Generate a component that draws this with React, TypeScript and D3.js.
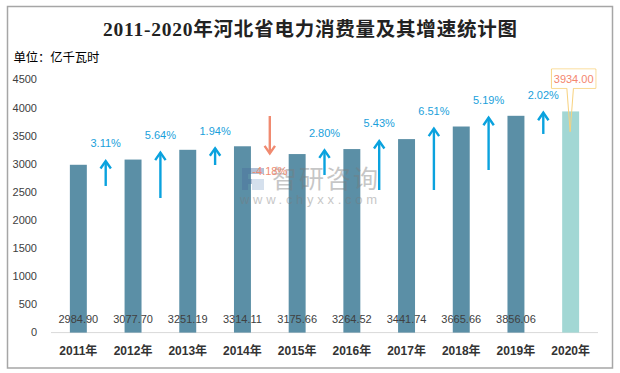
import React from 'react';
import * as d3 from 'd3';

const years = ['2011年', '2012年', '2013年', '2014年', '2015年', '2016年', '2017年', '2018年', '2019年', '2020年'];
const consumption = [2984.9, 3077.7, 3251.19, 3314.11, 3175.66, 3264.52, 3441.74, 3665.66, 3856.06, 3934.0];
const growth = [3.11, 5.64, 1.94, -4.18, 2.8, 5.43, 6.51, 5.19, 2.02];
const arrowTail = [2608, 2394, 2981, 3853, 2803, 2536, 2536, 2892, 3533];
const arrowTip = [3070, 3218, 3296, 3171, 3260, 3426, 3645, 3840, 3929];
const calloutTipValue = 3573;
const yTicks = [0, 500, 1000, 1500, 2000, 2500, 3000, 3500, 4000, 4500];

const W = 620;
const H = 373;
const SANS = '"Liberation Sans", "Noto Sans CJK SC", sans-serif';
const CJK = '"Noto Sans CJK SC", "Liberation Sans", sans-serif';

export default function App() {
  const x = d3
    .scaleBand<string>()
    .domain(years)
    .range([51, 598])
    .paddingInner(0.69)
    .paddingOuter(0.345);
  const y = d3.scaleLinear().domain([0, 4500]).range([332.6, 79.6]);
  const cx = (i: number) => (x(years[i]) as number) + x.bandwidth() / 2;

  const blue = '#0AA2DE';
  const red = '#F08A70';

  const last = years.length - 1;
  const bx = cx(last);
  const boxL = bx - 19.2;
  const boxR = bx + 25.2;
  const boxT = 69;
  const boxB = 88.3;
  const tipY = y(calloutTipValue);
  const calloutPath = `M${boxL},${boxT}H${boxR}V${boxB}H${bx + 2.8}L${bx - 0.5},${tipY}L${bx - 3.8},${boxB}H${boxL}Z`;

  return (
    <div style={{ position: 'absolute', left: 0, top: 0, width: W, height: H, background: '#fff' }}>
      <svg width={W} height={H} viewBox={`0 0 ${W} ${H}`} style={{ display: 'block' }}>
        <rect x={0} y={0} width={W} height={H} fill="#fff" />
        <rect x={7.5} y={6.5} width={605} height={361.5} fill="none" stroke="#A6A6A6" strokeWidth={1.5} />

        <text
          x={310}
          y={36}
          textAnchor="middle"
          fontFamily={'"Liberation Serif", "Noto Sans CJK SC", serif'}
          fontWeight="bold"
          fontSize={19.5}
          fill="#222"
          textLength={414}
          lengthAdjust="spacing"
        >
          2011-2020年河北省电力消费量及其增速统计图
        </text>
        <text x={13.5} y={62} fontFamily={CJK} fontSize={12.4} fill="#000" textLength={86} lengthAdjust="spacing">
          单位：亿千瓦时
        </text>

        {yTicks.map((t) => (
          <text key={t} x={37} y={y(t)} dy="0.35em" textAnchor="end" fontFamily={SANS} fontSize={11} fill="#404040">
            {t}
          </text>
        ))}

        <line x1={51} x2={598} y1={y(0)} y2={y(0)} stroke="#D9D9D9" strokeWidth={1} />

        {consumption.map((v, i) => (
          <rect
            key={years[i]}
            x={x(years[i])}
            y={y(v)}
            width={x.bandwidth()}
            height={y(0) - y(v)}
            fill={i === last ? '#A2D7D4' : '#5B8FA6'}
          />
        ))}

        {/* watermark */}
        <g opacity={0.42}>
          <path d="M242,168h22v6h-16v5h12v5h-12v6h-6z" fill="#4B6E9E" />
          <path d="M252,179h12v11h-12z" fill="#9DB6D6" />
          <text x={272} y={188} fontFamily={CJK} fontSize={25} fill="#7a7a7a" textLength={106} lengthAdjust="spacing">
            智研咨询
          </text>
          <text x={240} y={204} fontFamily={SANS} fontSize={13} fill="#7a7a7a" textLength={137} lengthAdjust="spacing">
            www.chyxx.com
          </text>
        </g>

        {consumption.slice(0, last).map((v, i) => (
          <text key={'v' + i} x={cx(i)} y={319.3} dy="0.35em" textAnchor="middle" fontFamily={SANS} fontSize={11} fill="#404040">
            {v.toFixed(2)}
          </text>
        ))}

        {growth.map((g, i) => {
          const ax = (cx(i) + cx(i + 1)) / 2;
          const ty = y(arrowTip[i]);
          const ly = y(arrowTail[i]);
          const up = g >= 0;
          const col = up ? blue : red;
          const d = up ? 1 : -1;
          const labelY = up ? ty - 16.5 : ty + 16.5;
          return (
            <g key={'g' + i}>
              <line x1={ax} x2={ax} y1={ly} y2={ty + d * 1} stroke={col} strokeWidth={2.4} />
              <path
                d={`M${ax - 5.2},${ty + d * 8.5}L${ax},${ty + d * 1}L${ax + 5.2},${ty + d * 8.5}`}
                fill="none"
                stroke={col}
                strokeWidth={2.4}
                strokeLinejoin="miter"
              />
              <text x={ax} y={labelY} dy="0.35em" textAnchor="middle" fontFamily={SANS} fontSize={11} fill={up ? '#1A9FDB' : red}>
                {g.toFixed(2)}%
              </text>
            </g>
          );
        })}

        <path d={calloutPath} fill="#fff" fillOpacity={0} stroke="#F8D27E" strokeWidth={1} />
        <rect x={boxL + 0.5} y={boxT + 0.5} width={boxR - boxL - 1} height={boxB - boxT - 1} fill="#fff" />
        <text x={(boxL + boxR) / 2} y={(boxT + boxB) / 2} dy="0.35em" textAnchor="middle" fontFamily={SANS} fontSize={11} fill="#F4866E">
          {consumption[last].toFixed(2)}
        </text>

        {years.map((yr, i) => (
          <text key={'x' + i} x={cx(i)} y={351} dy="0.35em" textAnchor="middle" fontFamily={SANS} fontWeight="bold" fontSize={12} fill="#333">
            {yr}
          </text>
        ))}
      </svg>
    </div>
  );
}
